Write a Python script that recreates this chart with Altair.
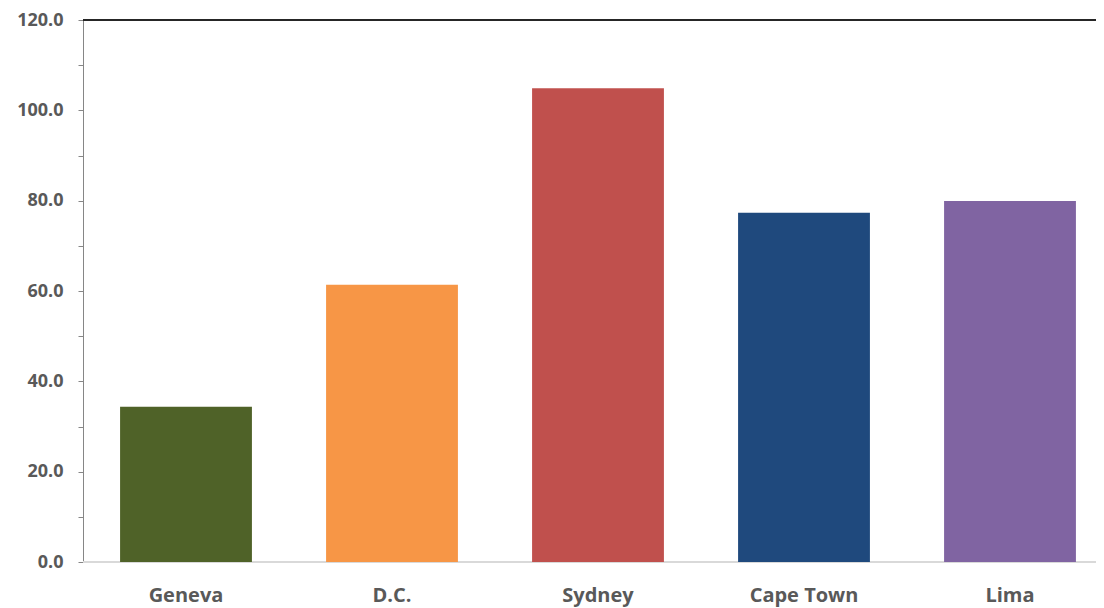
import altair as alt
import pandas as pd

cities = ["Geneva", "D.C.", "Sydney", "Cape Town", "Lima"]
values = [34.4, 61.4, 104.9, 77.3, 79.9]
colors = ["#4f6228", "#f79646", "#c0504d", "#1f497d", "#8064a2"]

df = pd.DataFrame({"city": cities, "value": values})

FONT = "Open Sans"

bars = alt.Chart(df).mark_bar().encode(
    x=alt.X("city:N", sort=cities, title=None,
            scale=alt.Scale(paddingInner=0.36, paddingOuter=0.18, range=[0, 1030]),
            axis=alt.Axis(labelAngle=0, labelFont=FONT, labelFontSize=20,
                          labelFontWeight="bold", labelColor="#595959",
                          labelPadding=23, ticks=False, domain=False,
                          labelBaseline="top")),
    y=alt.Y("value:Q", title=None,
            scale=alt.Scale(domain=[0, 120], nice=False),
            axis=alt.Axis(values=list(range(0, 121, 10)),
                          labelExpr="datum.value % 20 == 0 ? format(datum.value, '.1f') : ''",
                          labelFont=FONT, labelFontSize=18, labelFontWeight="bold",
                          labelColor="#595959", tickColor="#868686", tickSize=5,
                          labelPadding=15, domainColor="#868686", domainWidth=1,
                          grid=False)),
    color=alt.Color("city:N", sort=cities,
                    scale=alt.Scale(domain=cities, range=colors), legend=None),
)

top_line = alt.Chart(df).mark_rule(color="#262626", strokeWidth=2).encode(
    y=alt.datum(120), x=alt.value(0), x2=alt.value(1030)
)
bottom_line = alt.Chart(df).mark_rule(color="#d9d9d9", strokeWidth=1.5).encode(
    y=alt.datum(0), x=alt.value(0), x2=alt.value(1030)
)

chart = alt.layer(bottom_line, bars, top_line).properties(
    width=1013, height=542,
    autosize=alt.AutoSizeParams(type="none"),
    padding={"left": 75, "top": 12, "right": 0, "bottom": 45},
).configure_view(stroke=None, clip=False)

chart.save("out.html", embed_options={"renderer": "svg", "actions": False})
